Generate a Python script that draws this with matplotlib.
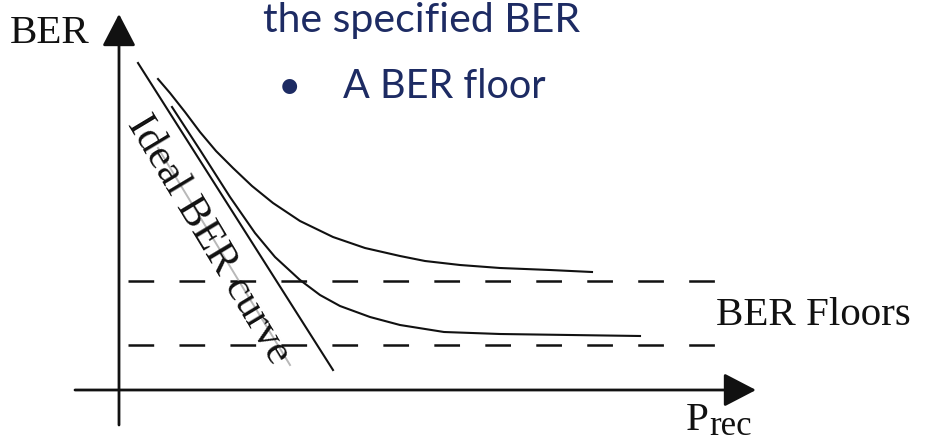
import matplotlib
matplotlib.use("Agg")
import matplotlib.pyplot as plt

# Sketch of BER versus received power: ideal curve and two curves that level off
# at a BER floor. Coordinates are in drawing units (x to the right, y downward).
ideal_x = [138, 333]
ideal_y = [63, 370]

upper_x = [158, 170, 185, 200, 216, 233, 252, 273, 300, 333, 365, 400, 425, 460, 500, 550, 592]
upper_y = [79, 93, 112, 132, 151, 168, 186, 203, 221, 237, 248, 256, 261, 265, 268, 270, 272]

lower_x = [172, 200, 230, 255, 275, 300, 320, 340, 370, 400, 444, 500, 570, 640]
lower_y = [107, 150, 197, 233, 257, 280, 295, 306, 317, 325, 332, 334, 335, 336]

floor_levels = [281, 345]
floor_span = [128, 738]

ink = "#111111"
navy = "#1d2b63"
serif = "Liberation Serif"

plt.rcParams["lines.scale_dashes"] = False

fig = plt.figure(figsize=(9.25, 4.45), dpi=100)
ax = fig.add_axes([0, 0, 1, 1])
ax.set_xlim(0, 925)
ax.set_ylim(445, 0)
ax.axis("off")

# axes with arrow heads
head = "-|>,head_length=1.0,head_width=0.52"
ax.annotate("", xy=(119, 14), xytext=(119, 425),
            arrowprops=dict(arrowstyle=head, lw=2.0, color=ink,
                            shrinkA=0, shrinkB=0, mutation_scale=20))
ax.annotate("", xy=(756, 390), xytext=(75, 390),
            arrowprops=dict(arrowstyle=head, lw=2.0, color=ink,
                            shrinkA=0, shrinkB=0, mutation_scale=20))

# BER floor levels
for lvl in floor_levels:
    ax.plot(floor_span, [lvl, lvl], color=ink, lw=1.8, dashes=(18.5, 18.2),
            solid_capstyle="butt", dash_capstyle="butt")

# faint guide through the label of the ideal curve
ax.plot([158, 290], [148, 365], color="#b8b8b8", lw=1.4)

# curves
ax.plot(ideal_x, ideal_y, color=ink, lw=1.5)
ax.plot(upper_x, upper_y, color=ink, lw=1.5)
ax.plot(lower_x, lower_y, color=ink, lw=1.5)

ax.text(209, 240, "Ideal BER curve", family=serif, fontsize=30.5, color=ink,
        rotation=-59, rotation_mode="anchor", ha="center", va="center")

ax.text(10, 43, "BER", family=serif, fontsize=29.5, color=ink, va="baseline", ha="left")
ax.text(716, 325, "BER Floors", family=serif, fontsize=29.5, color=ink, va="baseline", ha="left")
ax.text(686, 430, "P", family=serif, fontsize=29.5, color=ink, va="baseline", ha="left")
ax.text(709, 435, "rec", family=serif, fontsize=25, color=ink, va="baseline", ha="left")

ax.text(263, 32, "the specified BER", family="Lato", fontsize=29.5, color=navy,
        va="baseline", ha="left")
ax.text(289, 88, "\u2022", family="Lato", fontsize=29, color=navy,
        va="center", ha="center")
ax.text(343, 98, "A BER floor", family="Lato", fontsize=28.5, color=navy,
        va="baseline", ha="left")

fig.savefig("out.png", dpi=100)
